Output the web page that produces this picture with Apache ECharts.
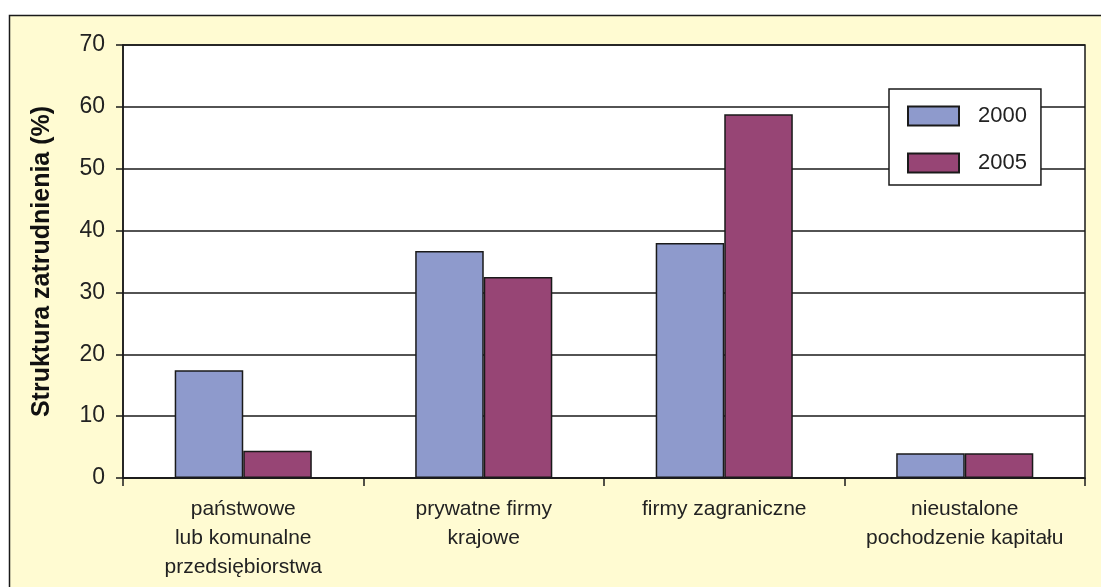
<!DOCTYPE html>
<html><head><meta charset="utf-8">
<script src="https://cdn.jsdelivr.net/npm/echarts@6/dist/echarts.min.js"></script>
<style>html,body{margin:0;padding:0;background:#fff}#c{width:1101px;height:587px}</style>
</head><body><div id="c"></div>
<script>
var categories = ['państwowe\nlub komunalne\nprzedsiębiorstwa', 'prywatne firmy\nkrajowe', 'firmy zagraniczne', 'nieustalone\npochodzenie kapitału'];
var seriesNames = ['2000', '2005'];
var values2000 = [17.4, 36.7, 38.0, 4.0];
var values2005 = [4.4, 32.5, 58.8, 4.0];
var yTicks = [0, 70, 10];
var yTitle = 'Struktura zatrudnienia (%)';

var FONT = '"Liberation Sans Narrow","Arial Narrow","Liberation Sans",Arial,sans-serif';
var chart = echarts.init(document.getElementById('c'), null, {renderer: 'canvas'});
chart.setOption({
  backgroundColor: '#ffffff',
  animation: false,
  graphic: [{
    type: 'rect', z: -10, silent: true,
    shape: {x: 9.5, y: 15.5, width: 1200, height: 700},
    style: {fill: '#FFFBD2', stroke: '#1a1a1a', lineWidth: 1.5}
  }],
  grid: {left: 123, right: 16, top: 45, bottom: 109, show: true, backgroundColor: '#ffffff', borderColor: '#1a1a1a', borderWidth: 1.5},
  legend: {
    data: seriesNames, orient: 'vertical', left: 889, top: 89,
    backgroundColor: '#ffffff', borderColor: '#1a1a1a', borderWidth: 1.5,
    padding: [16, 14, 11, 18], itemWidth: 51, itemHeight: 19, itemGap: 25,
    icon: 'rect',
    textStyle: {fontFamily: FONT, fontSize: 22, color: '#222', padding: [0, 0, 0, 14]},
    selectedMode: false
  },
  xAxis: {
    type: 'category', data: categories,
    axisLine: {lineStyle: {color: '#1a1a1a', width: 1.5}},
    axisTick: {show: true, length: 8, inside: false, lineStyle: {color: '#1a1a1a', width: 1.5}},
    axisLabel: {fontFamily: FONT, fontSize: 21, color: '#222', lineHeight: 29, margin: 17, interval: 0}
  },
  yAxis: {
    type: 'value', min: yTicks[0], max: yTicks[1], interval: yTicks[2],
    name: yTitle, nameLocation: 'middle', nameGap: 68, nameRotate: 90,
    nameTextStyle: {fontFamily: FONT, fontSize: 25, fontWeight: 'bold', color: '#111'},
    axisLine: {show: true, lineStyle: {color: '#1a1a1a', width: 1.5}},
    axisTick: {show: true, length: 7, lineStyle: {color: '#1a1a1a', width: 1.5}},
    splitLine: {show: true, lineStyle: {color: '#1a1a1a', width: 1.5}},
    axisLabel: {fontFamily: FONT, fontSize: 23, color: '#222', margin: 18}
  },
  series: [
    {name: seriesNames[0], type: 'bar', data: values2000, barGap: '0%', barCategoryGap: '43%',
     itemStyle: {color: '#8E9ACC', borderColor: '#1a1a1a', borderWidth: 1.5}},
    {name: seriesNames[1], type: 'bar', data: values2005, barGap: '0%', barCategoryGap: '43%',
     itemStyle: {color: '#974575', borderColor: '#1a1a1a', borderWidth: 1.5}}
  ]
});
</script></body></html>
